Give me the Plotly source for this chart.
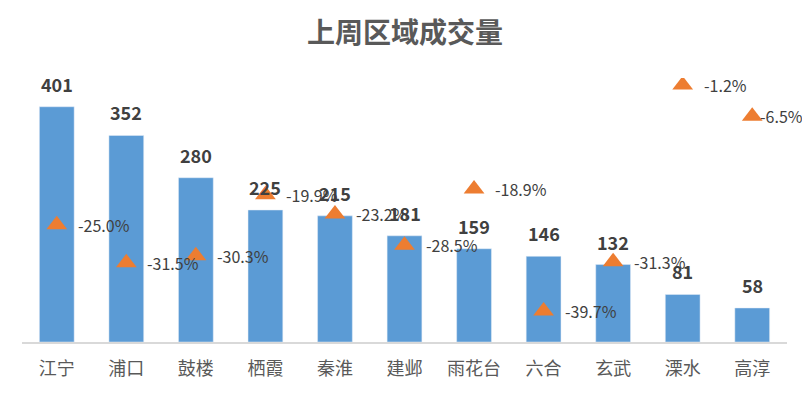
import plotly.graph_objects as go

categories = ["江宁", "浦口", "鼓楼", "栖霞", "秦淮", "建邺", "雨花台", "六合", "玄武", "溧水", "高淳"]
volumes = [401, 352, 280, 225, 215, 181, 159, 146, 132, 81, 58]
changes = [-25.0, -31.5, -30.3, -19.9, -23.2, -28.5, -18.9, -39.7, -31.3, -1.2, -6.5]

FONT = "Noto Sans CJK SC"
BAR_COLOR = "#5B9BD5"
TRI_COLOR = "#ED7D31"

fig = go.Figure()
fig.add_trace(go.Bar(
    x=categories, y=volumes, marker_color=BAR_COLOR, width=0.5,
    hoverinfo="skip", showlegend=False,
))
fig.add_trace(go.Scatter(
    x=categories, y=changes, yaxis="y2", mode="markers",
    marker=dict(symbol="triangle-up", size=18, color=TRI_COLOR),
    hoverinfo="skip", showlegend=False,
))

annotations = []
for c, v in zip(categories, volumes):
    annotations.append(dict(
        x=c, y=v, xref="x", yref="y", text=f"<b>{v}</b>", showarrow=False,
        yanchor="bottom", yshift=8, font=dict(family=FONT, size=18, color="#404040"),
    ))
n = len(categories)
for i, (c, p) in enumerate(zip(categories, changes)):
    # the last label is pulled left so that it stays inside the chart
    shift = 19 if i < n - 1 else 6
    annotations.append(dict(
        x=c, y=p, xref="x", yref="y2", text=f"{p:.1f}%", showarrow=False,
        xanchor="left", yanchor="middle", xshift=shift, yshift=0,
        font=dict(family=FONT, size=16, color="#404040"),
    ))

fig.update_layout(
    width=802, height=386,
    margin=dict(l=14, r=23, t=70, b=52),
    paper_bgcolor="white", plot_bgcolor="white",
    title=dict(text="<b>上周区域成交量</b>", x=0.495, xanchor="center", y=0.935, yanchor="middle",
               font=dict(family=FONT, size=28, color="#595959")),
    xaxis=dict(showgrid=False, showline=True, linecolor="#D9D9D9", linewidth=1.5,
               range=[-0.5, n - 0.5], ticklabelstandoff=10,
               ticks="", tickfont=dict(family=FONT, size=18, color="#595959")),
    yaxis=dict(range=[0, 450], visible=False, showgrid=False),
    yaxis2=dict(range=[-45, 0], overlaying="y", side="right", visible=False, showgrid=False),
    bargap=0.5,
    annotations=annotations,
)

fig.write_html("out.html")
